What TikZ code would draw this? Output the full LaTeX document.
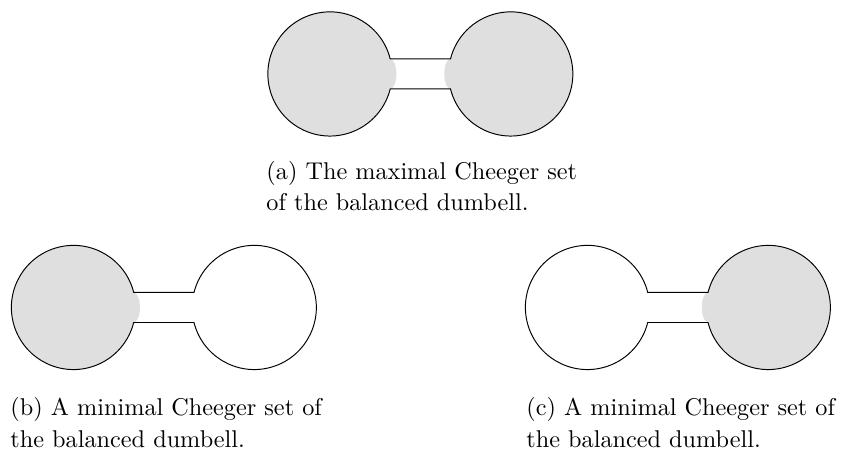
\documentclass[tikz,border=0pt]{standalone}

\newcommand{\pesa}[3]{%
  \begin{scope}[shift={(#1)}]
    \path[fill=#2] (0,0) circle[radius=0.9]
      (0.873,0) ellipse[x radius=0.09, y radius=0.217];
    \path[fill=#3] (2.62,0) circle[radius=0.9]
      (1.747,0) ellipse[x radius=0.09, y radius=0.217];
    \draw (14:0.9) arc[start angle=14, end angle=346, radius=0.9]
      -- ++(0.874,0) arc[start angle=194, end angle=526, radius=0.9] -- cycle;
  \end{scope}}

\begin{document}
\begin{tikzpicture}[font=\fontsize{10}{13}\selectfont, leyenda/.style={align=left, anchor=base west, inner sep=0pt}]
  \useasboundingbox (0,0) rectangle (12.22,6.537);
  \pesa{4.783,5.465}{gray!25}{gray!25}
  \pesa{1.065,2.080}{gray!25}{none}
  \pesa{8.516,2.080}{none}{gray!25}
  \node[leyenda] (ca) at (3.856,3.479) {(a) The maximal Cheeger set\\of the balanced dumbell.};
  \node[leyenda] (cb) at (0.145,0.055) {(b) A minimal Cheeger set of\\the balanced dumbell.};
  \node[leyenda] (cc) at (7.624,0.055) {(c) A minimal Cheeger set of\\the balanced dumbell.};
\end{tikzpicture}
\end{document}
